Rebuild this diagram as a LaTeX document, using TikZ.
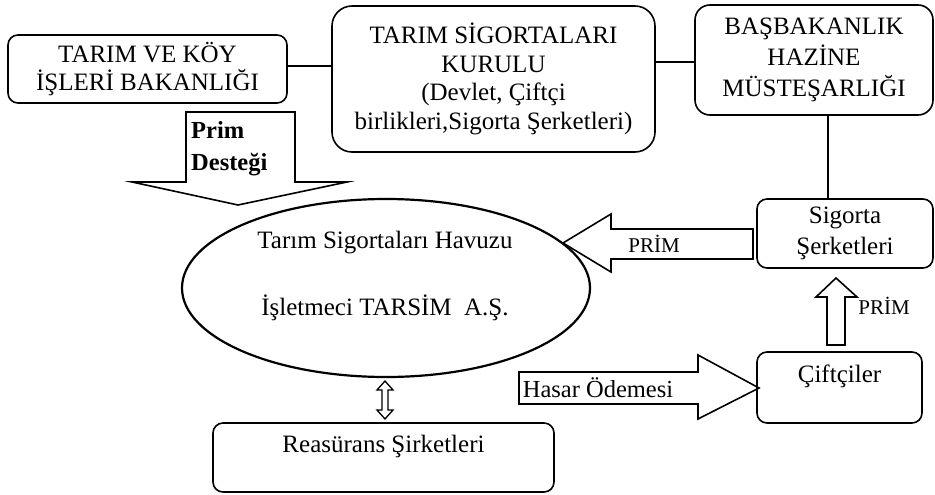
\documentclass[tikz,border=0pt]{standalone}
\usepackage{fontspec}
\setmainfont{Liberation Serif}
\usetikzlibrary{shapes.geometric}
\begin{document}
\begin{tikzpicture}[x=1pt,y=-1pt,
  box/.style={draw,line width=1.6pt,rounded corners=#1,inner sep=0pt,align=center,font=\fontsize{25}{27.5}\selectfont},
  box/.default=10pt,
  blk/.style={draw,line width=1.6pt,line join=miter},
  lbl/.style={font=\fontsize{25}{27.5}\selectfont,inner sep=0pt},
  plbl/.style={font=\fontsize{21}{24}\selectfont,inner sep=0pt},
  blbl/.style={font=\fontsize{24.5}{27}\selectfont\bfseries,inner sep=0pt},
  conn/.style={line width=1.6pt}]
\useasboundingbox (0,0) rectangle (935,495);
% boxes
\node[box=10pt, minimum width=279pt, minimum height=68pt] (kb) at (147.5,69) {TARIM VE KÖY\\İŞLERİ BAKANLIĞI};
\node[box=20pt, minimum width=323pt, minimum height=146pt, font=\fontsize{25}{28.5}\selectfont] (tsk) at (493.5,79) {TARIM SİGORTALARI\\KURULU\\(Devlet, Çiftçi\\birlikleri,Sigorta Şerketleri)};
\node[box=15pt, minimum width=238pt, minimum height=110pt, font=\fontsize{25}{31}\selectfont] (hm) at (814,60) {BAŞBAKANLIK\\HAZİNE\\MÜSTEŞARLIĞI};
\node[box=10pt, minimum width=176pt, minimum height=69pt, font=\fontsize{25}{31}\selectfont] (sig) at (845,233.5) {Sigorta\\Şerketleri};
\node[box=10pt, minimum width=165pt, minimum height=71pt] (cif) at (839.5,387.5) {Çiftçiler\\\mbox{}};
\node[box=10pt, minimum width=341pt, minimum height=69pt] (rea) at (383.5,457.5) {Reasürans Şirketleri\\\mbox{}};
\node[draw, ellipse, line width=2.2pt, minimum width=408pt, minimum height=178pt, inner sep=0pt] (hav) at (386,288) {};
\node[lbl] (havT1) at (385,243) {Tarım Sigortaları Havuzu};
\node[lbl] (havT2) at (385,308) {İşletmeci TARSİM~~A.Ş.};
% plain connectors
\draw[conn] ([yshift=3pt]kb.east) -- ([yshift=3pt]kb.east -| tsk.west);
\draw[conn] ([yshift=-2pt]hm.west) -- ([yshift=-2pt]hm.west -| tsk.east);
\draw[conn] ([xshift=14pt]hm.south) -- ([xshift=14pt]hm.south |- sig.north);
% Prim Destegi block arrow
\draw[blk] (186,112) -- (295,112) -- (295,182) -- (347,182) -- (238,205) -- (132,182) -- (186,182) -- cycle;
\node[blbl, anchor=base west] (pd1) at (191,138) {Prim};
\node[blbl, anchor=base west] (pd2) at (191,170) {Desteği};
% PRIM left arrow
\draw[blk] (753,229) -- (611,229) -- (611,214) -- (563,243) -- (611,272) -- (611,259) -- (753,259) -- cycle;
\node[plbl] (p1) at (654,244) {PRİM};
% PRIM up arrow
\draw[blk] (827,345) -- (827,297) -- (816,297) -- (836,278) -- (857,297) -- (845,297) -- (845,345) -- cycle;
\node[plbl] (p2) at (884,306) {PRİM};
% Hasar Odemesi arrow
\draw[blk] (519,372) -- (698,372) -- (698,355) -- (759,388) -- (698,419) -- (698,404) -- (519,404) -- cycle;
\node[lbl, font=\fontsize{24.5}{27}\selectfont] (ho) at (598,388) {Hasar Ödemesi};
% double arrow
\draw[line width=1.3pt, line join=miter] (385,381) -- (393,390) -- (388,390) -- (388,410) -- (393,410) -- (385,419) -- (377,410) -- (382,410) -- (382,390) -- (377,390) -- cycle;
\end{tikzpicture}
\end{document}
